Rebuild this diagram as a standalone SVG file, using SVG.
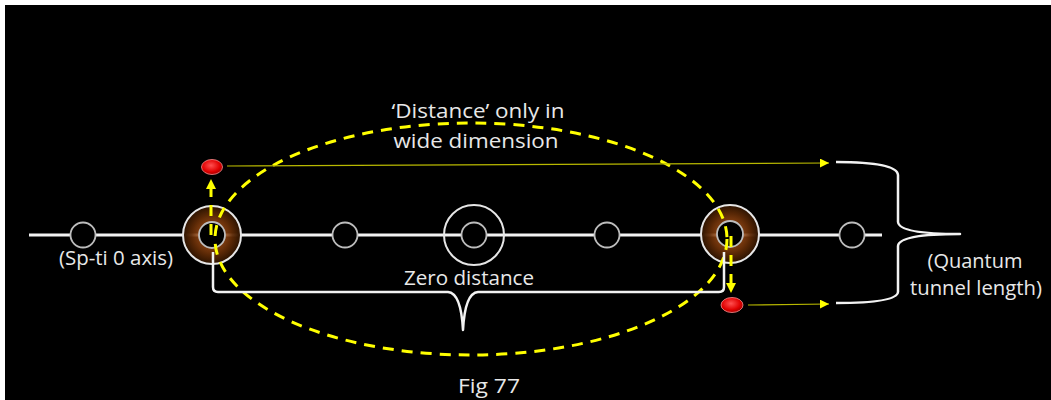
<svg xmlns="http://www.w3.org/2000/svg" width="1051" height="400" viewBox="0 0 1051 400">
<style>
.t{font-family:"Open Sans","Liberation Sans",sans-serif;font-size:19.5px;fill:#e8e8e8}
.small{fill:#000;stroke:#bdbdbd;stroke-width:1.8}
.outer{stroke:#e6e6e6;stroke-width:2}
.inner{fill:#000;stroke:#bdbdbd;stroke-width:1.8}
.wl{fill:none;stroke:#f2f2f2;stroke-width:2.5;stroke-linejoin:round}
.dash{fill:none;stroke:#ffff00;stroke-width:3;stroke-dasharray:11 8}
.thin{stroke:#b8b800;stroke-width:1.2}
</style>
<defs>
<radialGradient id="brown" cx="50%" cy="50%" r="50%">
<stop offset="0.4" stop-color="#a04c14" stop-opacity="0.8"/>
<stop offset="0.7" stop-color="#5e2a06" stop-opacity="0.95"/>
<stop offset="1" stop-color="#2a1200"/>
</radialGradient>
<radialGradient id="red" cx="45%" cy="40%" r="60%">
<stop offset="0" stop-color="#ff5050"/>
<stop offset="0.7" stop-color="#e00000"/>
<stop offset="1" stop-color="#a00000"/>
</radialGradient>
<marker id="ya" viewBox="0 0 10 10" refX="10" refY="5" markerWidth="9" markerHeight="9" markerUnits="userSpaceOnUse" orient="auto">
<path d="M0,0 L10,5 L0,10 z" fill="#ffff00"/>
</marker>
<marker id="yb" viewBox="0 0 10 10" refX="10" refY="5" markerWidth="10" markerHeight="10" markerUnits="userSpaceOnUse" orient="auto">
<path d="M0,0 L10,5 L0,10 z" fill="#ffff00"/>
</marker>
</defs>
<rect x="0" y="0" width="1051" height="400" fill="#ffffff"/>
<rect x="5" y="5" width="1046" height="395" fill="#000"/>

<g id="axis">
<line x1="29" y1="235" x2="882" y2="235" stroke="#f2f2f2" stroke-width="3"/>
</g>

<g id="node-left-small"><circle class="small" cx="83" cy="235" r="12.5"/></g>
<g id="node-donut-left"><circle class="outer" cx="212" cy="235" r="29" fill="url(#brown)"/><circle class="inner" cx="212" cy="235" r="13"/></g>
<g id="node-mid-left"><circle class="small" cx="345" cy="235" r="12.5"/></g>
<g id="node-center"><circle class="outer" cx="474" cy="235" r="30" fill="none"/><circle class="inner" cx="474" cy="235" r="12.5"/></g>
<g id="node-mid-right"><circle class="small" cx="607" cy="235" r="12.5"/></g>
<g id="node-donut-right"><circle class="outer" cx="730" cy="234" r="29" fill="url(#brown)"/><circle class="inner" cx="730" cy="234" r="13"/></g>
<g id="node-right-small"><circle class="small" cx="852" cy="235" r="12.5"/></g>

<g id="red-top"><ellipse cx="212" cy="167" rx="10.5" ry="7.5" fill="url(#red)" stroke="#ff9090" stroke-width="0.8"/></g>
<g id="red-bottom"><ellipse cx="732" cy="305" rx="11" ry="7.5" fill="url(#red)" stroke="#ff9090" stroke-width="0.8"/></g>

<g id="connectors">
<ellipse class="dash" cx="471" cy="239" rx="256" ry="116"/>
<line class="dash" x1="211" y1="235" x2="211" y2="179" stroke-dasharray="9 6" marker-end="url(#yb)"/>
<line class="dash" x1="731" y1="236" x2="731" y2="293" stroke-dasharray="9 6" marker-end="url(#yb)"/>
<line class="thin" x1="227" y1="166" x2="829" y2="163" marker-end="url(#ya)"/>
<line class="thin" x1="748" y1="305" x2="829" y2="304" marker-end="url(#ya)"/>
<path class="wl" d="M213,252 L213,287 Q213,292 218,292 L448,292 Q461,293 463,330 Q465,293 478,292 L719,292 Q724,292 724,287 L724,252"/>
<path class="wl" d="M836,162 Q897,162 898,175 L898,222 Q899,234 960,234 Q899,234 898,246 L898,292 Q897,303 836,303"/>
</g>

<g id="labels">
<text class="t" x="116" y="265" text-anchor="middle" textLength="114" lengthAdjust="spacingAndGlyphs">(Sp-ti 0 axis)</text>
<text class="t" x="469" y="285" text-anchor="middle" textLength="130" lengthAdjust="spacingAndGlyphs">Zero distance</text>
<text class="t" x="478" y="118" text-anchor="middle" textLength="173" lengthAdjust="spacingAndGlyphs">‘Distance’ only in</text>
<text class="t" x="476" y="148" text-anchor="middle" textLength="165" lengthAdjust="spacingAndGlyphs">wide dimension</text>
<text class="t" x="975" y="268" text-anchor="middle" textLength="95" lengthAdjust="spacingAndGlyphs">(Quantum</text>
<text class="t" x="976" y="295" text-anchor="middle" textLength="132" lengthAdjust="spacingAndGlyphs">tunnel length)</text>
<text class="t" x="489" y="393" text-anchor="middle" textLength="62" lengthAdjust="spacingAndGlyphs">Fig 77</text>
</g>
</svg>
